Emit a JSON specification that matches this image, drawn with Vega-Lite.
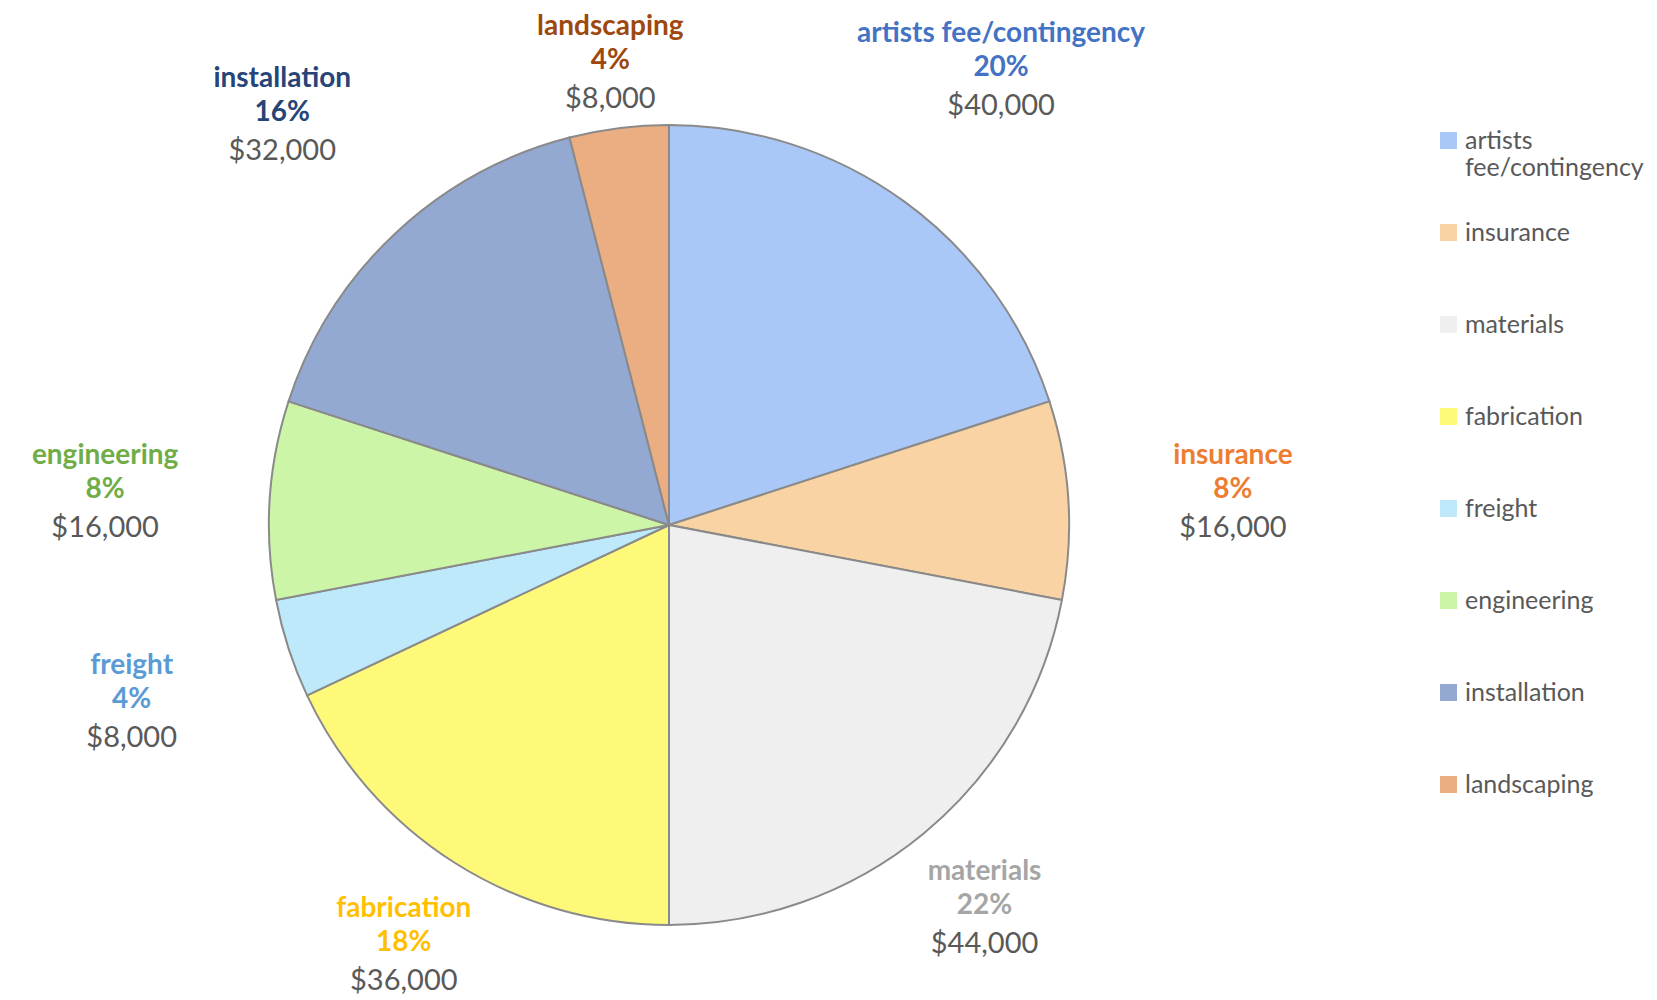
{
  "$schema": "https://vega.github.io/schema/vega-lite/v6.json",
  "width": 1338,
  "height": 950,
  "autosize": {"type": "none"},
  "padding": {"left": 0, "top": 50, "right": 319, "bottom": 0},
  "background": "white",
  "config": {"view": {"stroke": null}},
  "data": {
    "values": [
      {"slice": 1, "category": "artists fee/contingency", "cost": 40000, "share": 0.20},
      {"slice": 2, "category": "insurance", "cost": 16000, "share": 0.08},
      {"slice": 3, "category": "materials", "cost": 44000, "share": 0.22},
      {"slice": 4, "category": "fabrication", "cost": 36000, "share": 0.18},
      {"slice": 5, "category": "freight", "cost": 8000, "share": 0.04},
      {"slice": 6, "category": "engineering", "cost": 16000, "share": 0.08},
      {"slice": 7, "category": "installation", "cost": 32000, "share": 0.16},
      {"slice": 8, "category": "landscaping", "cost": 8000, "share": 0.04}
    ]
  },
  "encoding": {
    "theta": {"field": "cost", "type": "quantitative", "stack": true},
    "order": {"field": "slice", "type": "quantitative"}
  },
  "layer": [
    {
      "mark": {"type": "arc", "outerRadius": 400, "stroke": "#8a8a8a", "strokeWidth": 2},
      "encoding": {
        "color": {
          "field": "category",
          "type": "nominal",
          "scale": {
            "domain": ["artists fee/contingency", "insurance", "materials", "fabrication", "freight", "engineering", "installation", "landscaping"],
            "range": ["#A9C8F8", "#F9D3A3", "#EFEFEF", "#FFF97A", "#BDE9FB", "#CCF5A8", "#93A9D2", "#EBAD82"]
          },
          "legend": {
            "title": null,
            "orient": "none",
            "legendX": 1436,
            "legendY": 78,
            "labelFont": "Lato",
            "labelFontSize": 25,
            "labelColor": "#595959",
            "labelOffset": 4,
            "labelLimit": 300,
            "symbolType": "square",
            "symbolSize": 289,
            "symbolStrokeWidth": 0,
            "gridAlign": "all",
            "rowPadding": 39,
            "labelExpr": "datum.label == 'artists fee/contingency' ? ['artists', 'fee/contingency'] : datum.label"
          }
        }
      }
    },
    {
      "mark": {"type": "text", "radius": 565, "dy": -34, "font": "Lato", "fontWeight": "bold", "fontSize": 28},
      "encoding": {
        "text": {"field": "category", "type": "nominal"},
        "opacity": {"condition": {"test": "indexof(['materials','fabrication','landscaping'], datum.category) < 0", "value": 1}, "value": 0},
        "fill": {
          "field": "category", "type": "nominal", "legend": null,
          "scale": {
            "domain": ["artists fee/contingency", "insurance", "materials", "fabrication", "freight", "engineering", "installation", "landscaping"],
            "range": ["#4472C4", "#ED7D31", "#A5A5A5", "#FFC000", "#5B9BD5", "#70AD47", "#264478", "#9E480E"]
          }
        }
      }
    },
    {
      "mark": {"type": "text", "radius": 565, "dy": 0, "font": "Lato", "fontWeight": "bold", "fontSize": 28},
      "encoding": {
        "text": {"field": "share", "type": "quantitative", "format": ".0%"},
        "opacity": {"condition": {"test": "indexof(['materials','fabrication','landscaping'], datum.category) < 0", "value": 1}, "value": 0},
        "fill": {
          "field": "category", "type": "nominal", "legend": null,
          "scale": {
            "domain": ["artists fee/contingency", "insurance", "materials", "fabrication", "freight", "engineering", "installation", "landscaping"],
            "range": ["#4472C4", "#ED7D31", "#A5A5A5", "#FFC000", "#5B9BD5", "#70AD47", "#264478", "#9E480E"]
          }
        }
      }
    },
    {
      "mark": {"type": "text", "radius": 565, "dy": 38, "font": "Lato", "fontSize": 29, "color": "#595959"},
      "encoding": {
        "text": {"field": "cost", "type": "quantitative", "format": "$,.0f"},
        "opacity": {"condition": {"test": "indexof(['materials','fabrication','landscaping'], datum.category) < 0", "value": 1}, "value": 0},
        "detail": {"field": "category", "type": "nominal"}
      }
    },
    {
      "mark": {"type": "text", "radius": 495, "dy": -34, "font": "Lato", "fontWeight": "bold", "fontSize": 28},
      "encoding": {
        "text": {"field": "category", "type": "nominal"},
        "opacity": {"condition": {"test": "indexof(['materials','fabrication'], datum.category) >= 0", "value": 1}, "value": 0},
        "fill": {
          "field": "category", "type": "nominal", "legend": null,
          "scale": {
            "domain": ["artists fee/contingency", "insurance", "materials", "fabrication", "freight", "engineering", "installation", "landscaping"],
            "range": ["#4472C4", "#ED7D31", "#A5A5A5", "#FFC000", "#5B9BD5", "#70AD47", "#264478", "#9E480E"]
          }
        }
      }
    },
    {
      "mark": {"type": "text", "radius": 495, "dy": 0, "font": "Lato", "fontWeight": "bold", "fontSize": 28},
      "encoding": {
        "text": {"field": "share", "type": "quantitative", "format": ".0%"},
        "opacity": {"condition": {"test": "indexof(['materials','fabrication'], datum.category) >= 0", "value": 1}, "value": 0},
        "fill": {
          "field": "category", "type": "nominal", "legend": null,
          "scale": {
            "domain": ["artists fee/contingency", "insurance", "materials", "fabrication", "freight", "engineering", "installation", "landscaping"],
            "range": ["#4472C4", "#ED7D31", "#A5A5A5", "#FFC000", "#5B9BD5", "#70AD47", "#264478", "#9E480E"]
          }
        }
      }
    },
    {
      "mark": {"type": "text", "radius": 495, "dy": 38, "font": "Lato", "fontSize": 29, "color": "#595959"},
      "encoding": {
        "text": {"field": "cost", "type": "quantitative", "format": "$,.0f"},
        "opacity": {"condition": {"test": "indexof(['materials','fabrication'], datum.category) >= 0", "value": 1}, "value": 0},
        "detail": {"field": "category", "type": "nominal"}
      }
    },
    {
      "mark": {"type": "text", "radius": 468, "dy": -34, "font": "Lato", "fontWeight": "bold", "fontSize": 28},
      "encoding": {
        "text": {"field": "category", "type": "nominal"},
        "opacity": {"condition": {"test": "datum.category == 'landscaping'", "value": 1}, "value": 0},
        "fill": {
          "field": "category", "type": "nominal", "legend": null,
          "scale": {
            "domain": ["artists fee/contingency", "insurance", "materials", "fabrication", "freight", "engineering", "installation", "landscaping"],
            "range": ["#4472C4", "#ED7D31", "#A5A5A5", "#FFC000", "#5B9BD5", "#70AD47", "#264478", "#9E480E"]
          }
        }
      }
    },
    {
      "mark": {"type": "text", "radius": 468, "dy": 0, "font": "Lato", "fontWeight": "bold", "fontSize": 28},
      "encoding": {
        "text": {"field": "share", "type": "quantitative", "format": ".0%"},
        "opacity": {"condition": {"test": "datum.category == 'landscaping'", "value": 1}, "value": 0},
        "fill": {
          "field": "category", "type": "nominal", "legend": null,
          "scale": {
            "domain": ["artists fee/contingency", "insurance", "materials", "fabrication", "freight", "engineering", "installation", "landscaping"],
            "range": ["#4472C4", "#ED7D31", "#A5A5A5", "#FFC000", "#5B9BD5", "#70AD47", "#264478", "#9E480E"]
          }
        }
      }
    },
    {
      "mark": {"type": "text", "radius": 468, "dy": 38, "font": "Lato", "fontSize": 29, "color": "#595959"},
      "encoding": {
        "text": {"field": "cost", "type": "quantitative", "format": "$,.0f"},
        "opacity": {"condition": {"test": "datum.category == 'landscaping'", "value": 1}, "value": 0},
        "detail": {"field": "category", "type": "nominal"}
      }
    }
  ]
}
